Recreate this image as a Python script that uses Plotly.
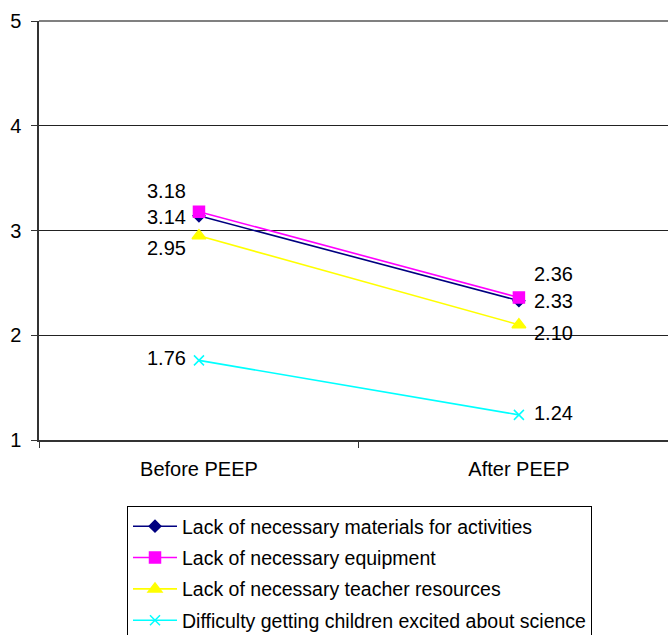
import plotly.graph_objects as go

# Survey phases (x categories) and mean ratings per barrier
phases = ["Before PEEP", "After PEEP"]
series_names = [
    "Lack of necessary materials for activities",
    "Lack of necessary equipment",
    "Lack of necessary teacher resources",
    "Difficulty getting children excited about science",
]
materials = [3.14, 2.33]
equipment = [3.18, 2.36]
teacher_resources = [2.95, 2.10]
excitement = [1.76, 1.24]
y_ticks = [1, 2, 3, 4, 5]

series_values = [materials, equipment, teacher_resources, excitement]

# Styling per series
colors = ["#000080", "#FF00FF", "#FFFF00", "#00FFFF"]
symbols = ["diamond", "square", "triangle-up", "x-thin"]
marker_sizes = [9, 11, 12, 10]

# Vertical pixel nudges for value labels (before, after) so they don't collide
label_yshift = [(-1, 0), (21, 24), (-12, -8), (2, 2)]

FONT = "Liberation Sans, Arial, sans-serif"

W, H = 668, 635
M_L, M_R, M_T, M_B = 39, 0, 21, 195
plot_w = W - M_L - M_R
plot_h = H - M_T - M_B

fig = go.Figure()
for i, (name, vals) in enumerate(zip(series_names, series_values)):
    fig.add_trace(go.Scatter(
        x=phases, y=vals, name=name, mode="lines+markers",
        legendgroup=f"g{i}",
        line=dict(color=colors[i], width=1.6),
        marker=dict(symbol=symbols[i], size=marker_sizes[i], color=colors[i],
                    line=dict(color=colors[i], width=1.5)),
    ))
    for j, v in enumerate(vals):
        before = j == 0
        fig.add_annotation(
            x=phases[j], y=v, text=f"{v:.2f}", showarrow=False,
            xanchor="right" if before else "left", yanchor="middle",
            xshift=-11 if before else 13, yshift=label_yshift[i][j],
            font=dict(family=FONT, size=20, color="black"),
        )

# Gray plot-area border along the top
fig.add_shape(type="line", xref="paper", yref="paper", x0=0, x1=1, y0=1, y1=1,
              line=dict(color="#808080", width=2))

fig.update_layout(
    width=W, height=H,
    margin=dict(l=M_L, r=M_R, t=M_T, b=M_B, autoexpand=False),
    paper_bgcolor="white", plot_bgcolor="white",
    font=dict(family=FONT, size=20, color="black"),
    showlegend=True,
    legend=dict(
        xref="paper", yref="paper",
        x=(127 - M_L) / plot_w, y=-(506 - (M_T + plot_h)) / plot_h,
        xanchor="left", yanchor="top",
        bordercolor="black", borderwidth=1, bgcolor="white",
        font=dict(family=FONT, size=19.5, color="black"),
        tracegroupgap=3, itemwidth=44, maxheight=300,
    ),
    xaxis=dict(
        type="category", range=[-0.5, 1.466],
        showgrid=False, showline=True, linecolor="#333333", linewidth=1.5,
        ticks="outside", tickson="boundaries", ticklen=6, tickcolor="#333333",
        tickfont=dict(family=FONT, size=20), ticklabelstandoff=10, tickangle=0,
        zeroline=False, fixedrange=True,
    ),
    yaxis=dict(
        range=[1, 5], tickvals=y_ticks,
        showgrid=True, gridcolor="#222222", gridwidth=1,
        showline=True, linecolor="#333333", linewidth=1.5,
        ticks="outside", ticklen=6, tickcolor="#333333",
        tickfont=dict(family=FONT, size=20), ticklabelstandoff=6,
        zeroline=False, fixedrange=True,
    ),
)

fig.write_html("out.html")
